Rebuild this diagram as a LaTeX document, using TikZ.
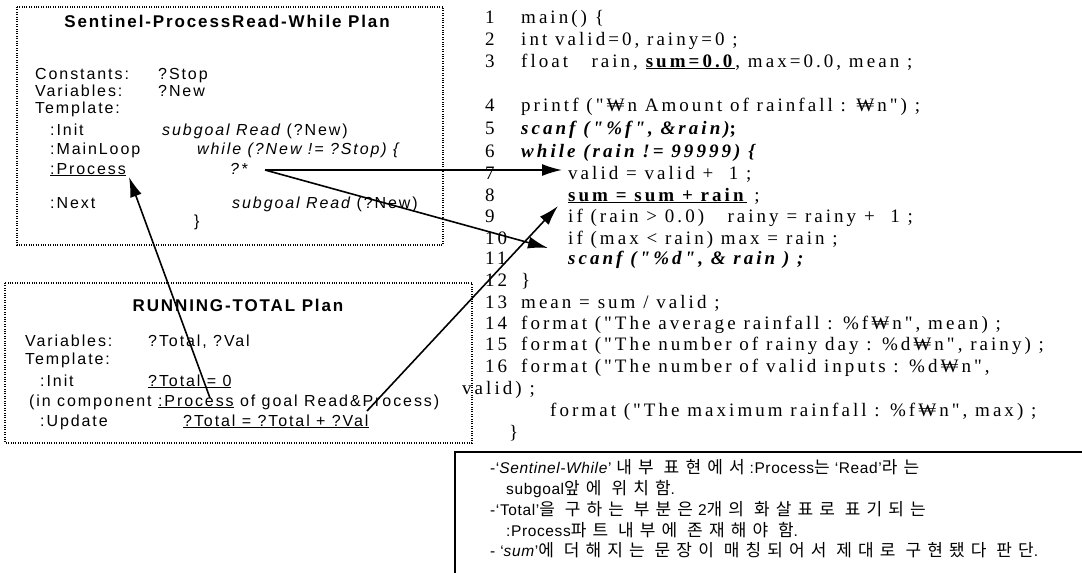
\documentclass[tikz,border=0pt]{standalone}
\usepackage{fontspec}
\setmainfont{Liberation Serif}
\newfontfamily\planfont{Liberation Sans}[LetterSpace=12]
\newfontfamily\plantfont{Liberation Sans}[LetterSpace=11]
\newfontfamily\codefont{Liberation Serif}[LetterSpace=16]
\newfontfamily\krfont{Noto Sans CJK KR}[LetterSpace=36]
\newfontfamily\notelat{Liberation Sans}[LetterSpace=4]
\usetikzlibrary{arrows.meta}
\newcommand\kr[1]{{\krfont\fontsize{17}{20}\selectfont #1}}
\begin{document}
\begin{tikzpicture}[x=1pt,y=-1pt,
  plan/.style={anchor=base west, inner sep=0pt, font=\planfont\fontsize{16}{19}\selectfont},
  plantitle/.style={anchor=base, inner sep=0pt, font=\plantfont\bfseries\fontsize{17}{20}\selectfont},
  code/.style={anchor=base west, inner sep=0pt, font=\codefont\fontsize{19}{22}\selectfont},
  note/.style={anchor=base west, inner sep=0pt, font=\notelat\fontsize{15.5}{18}\selectfont},
  dotbox/.style={draw, line width=1.1pt, dash pattern=on 1pt off 1.4pt},
  arr/.style={line width=1.6pt, -{Latex[length=20pt,width=12pt]}},
  notebox/.style={line width=1.5pt}]
\useasboundingbox (0,0) rectangle (1082,573);
% ---------- top plan box
\draw[dotbox] (17,7) rectangle (443,245);
\node[plantitle] (t1) at (227,27) {Sentinel-ProcessRead-While Plan};
\node[plan] (c1) at (35,79) {Constants:};
\node[plan] (c1v) at (158,79) {?Stop};
\node[plan] (v1) at (35,96) {Variables:};
\node[plan] (v1v) at (158,96) {?New};
\node[plan] (tp1) at (35,113) {Template:};
\node[plan] (in1) at (50,135) {:Init};
\node[plan] (in1v) at (162,135) {\itshape subgoal Read \upshape(?New)};
\node[plan] (ml) at (50,154) {:MainLoop};
\node[plan] (mlv) at (197,154) {\itshape while (?New != ?Stop) \{};
\node[plan] (pr) at (50,174) {\underline{:Process}};
\node[plan] (qstar) at (230,174) {\itshape ?*};
\node[plan] (nx) at (50,208) {:Next};
\node[plan] (nxv) at (232,208) {\itshape subgoal Read \upshape(?New)};
\node[plan] (cb) at (194,226) {\}};
% ---------- bottom plan box
\draw[dotbox] (5,283) rectangle (472,443);
\node[plantitle] (t2) at (238,311) {RUNNING-TOTAL Plan};
\node[plan] (v2) at (25,346) {Variables:};
\node[plan] (v2v) at (148,346) {?Total, ?Val};
\node[plan] (tp2) at (25,364) {Template:};
\node[plan] (in2) at (40,386) {:Init};
\node[plan] (in2v) at (148,386) {\underline{?Total = 0}};
\node[plan] (comp) at (29,406) {(in component \underline{:Process} of goal Read\&Process)};
\node[plan] (up) at (40,426) {:Update};
\node[plan] (upv) at (183,426) {\underline{?Total = ?Total + ?Val}};
% ---------- code
\node[code] (n1) at (485,23) {1};   \node[code] (l1) at (521,23) {main() \{};
\node[code] (n2) at (485,45) {2};   \node[code] (l2) at (521,45) {int valid=0, rainy=0 ;};
\node[code] (n3) at (485,67) {3};   \node[code] (l3) at (521,67) {float \ \ rain, \underline{\textbf{sum=0.0}}, max=0.0, mean ;};
\node[code] (n4) at (485,111) {4};  \node[code] (l4) at (521,111) {printf ("₩n Amount of rainfall : ₩n") ;};
\node[code] (n5) at (485,134) {5};  \node[code] (l5) at (521,134) {\bfseries\itshape scanf ("\%f", \&rain)\upshape ;};
\node[code] (n6) at (485,157) {6};  \node[code] (l6) at (521,157) {\bfseries\itshape while (rain != 99999) \{};
\node[code] (n7) at (485,179) {7};  \node[code] (l7) at (568,179) {valid = valid + \ 1 ;};
\node[code] (n8) at (485,201) {8};  \node[code] (l8) at (568,201) {\underline{\textbf{sum = sum + rain}} ;};
\node[code] (n9) at (485,222) {9};  \node[code] (l9) at (568,222) {if (rain > 0.0) \ \ rainy = rainy + \ 1 ;};
\node[code] (n10) at (485,244) {10}; \node[code] (l10) at (568,244) {if (max < rain) max = rain ;};
\node[code] (n11) at (485,264) {11}; \node[code] (l11) at (568,264) {\bfseries\itshape scanf ("\%d", \& rain ) ;};
\node[code] (n12) at (485,286) {12}; \node[code] (l12) at (521,286) {\}};
\node[code] (n13) at (485,308) {13}; \node[code] (l13) at (521,308) {mean = sum / valid ;};
\node[code] (n14) at (485,329) {14}; \node[code] (l14) at (521,329) {format ("The average rainfall : \%f₩n", mean) ;};
\node[code] (n15) at (485,350) {15}; \node[code] (l15) at (521,350) {format ("The number of rainy day : \%d₩n", rainy) ;};
\node[code] (n16) at (485,372) {16}; \node[code] (l16) at (521,372) {format ("The number of valid inputs : \%d₩n",};
\node[code] (l16b) at (462,394) {valid) ;};
\node[code] (l17) at (550,416) {format ("The maximum rainfall : \%f₩n", max) ;};
\node[code] (l18) at (509,438) {\}};
% ---------- note box
\draw[notebox] (1082,452) -- (455,452) -- (455,573);
\node[note] (m1) at (490,473) {-‘\textit{Sentinel-While}’ \kr{내부 표현에서} :Process\kr{는} ‘Read’\kr{라는}};
\node[note] (m2) at (506,494) {subgoal\kr{앞에 위치함}.};
\node[note] (m3) at (490,515) {-‘Total’\kr{을 구하는 부분은} 2\kr{개의 화살표로 표기되는}};
\node[note] (m4) at (506,536) {:Process\kr{파트 내부에 존재해야 함}.};
\node[note] (m5) at (490,556) {- ‘\textit{sum}’\kr{에 더해지는 문장이 매칭되어서 제대로 구현됐다 판단}.};
% ---------- arrows
\coordinate (aS) at (265,170);
\coordinate (aE) at (562,170);
\coordinate (bE) at (548,248);
\coordinate (cS) at (210,398);
\coordinate (cE) at (129,177);
\coordinate (dS) at (367,411);
\coordinate (dE) at (558,206);
\draw[arr] (aS) -- (aE);
\draw[arr] (aS) -- (bE);
\draw[arr] (cS) -- (cE);
\draw[arr] (dS) -- (dE);
\end{tikzpicture}
\end{document}
